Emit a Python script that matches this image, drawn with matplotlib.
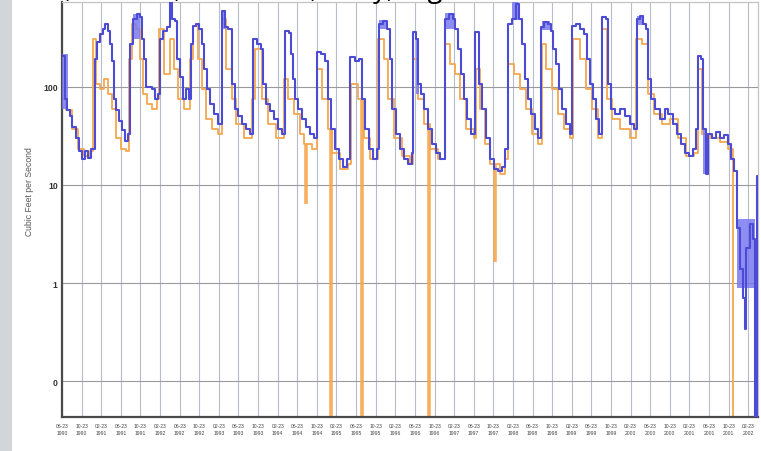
import numpy as np
import pandas as pd
import matplotlib
matplotlib.use("Agg")
import matplotlib.pyplot as plt
from matplotlib.patches import Rectangle

# ---- data (time in months from the first tick, flow in cubic feet per second) ----
observed_t = [0.0, 0.6, 1.0, 1.6, 2.0, 2.9, 3.5, 4.1, 4.7, 5.3, 5.9,
              6.7, 7.1, 7.8, 8.4, 8.8, 9.4, 9.8, 10.2, 10.6, 11.0, 11.6, 12.2, 12.9, 13.5,
              13.9, 14.5, 15.3, 15.9, 16.3, 16.7, 17.1, 18.4, 19.0, 19.6,
              20.0, 20.6, 21.4, 22.0, 22.4, 23.1, 23.5, 24.1, 24.7, 25.3, 25.9,
              26.3, 26.7, 27.3, 27.9, 28.6, 29.0, 29.6, 30.2, 31.0, 31.8,
              32.7, 33.3, 33.9, 34.7, 35.3, 35.9, 36.7, 37.6, 38.4,
              38.9, 39.8, 40.6, 41.0, 41.6, 42.4, 43.3, 44.1, 44.9,
              45.5, 46.3, 46.7, 47.1, 47.6, 48.2, 49.0, 49.8, 50.6, 51.4,
              52.0, 52.9, 53.7, 54.3, 54.9, 55.7, 56.5, 57.3, 58.2,
              58.8, 59.8, 60.6, 61.2, 61.8, 62.7, 63.5, 64.3,
              64.7, 65.5, 66.3, 66.9, 67.3, 68.2, 69.0, 69.8, 70.6, 71.4,
              71.6, 72.2, 72.7, 73.3, 73.9, 74.7, 75.5, 76.3, 77.1,
              78.2, 79.0, 79.8, 80.2, 80.8, 81.4, 82.0, 82.7, 83.5,
              84.3, 85.1, 85.7, 86.5, 87.3, 88.2, 89.0, 89.8, 90.4,
              91.0, 91.8, 92.7, 93.3, 93.9, 94.5, 95.1, 95.7, 96.5, 97.1,
              97.8, 98.4, 99.2, 99.8, 100.2, 100.8, 101.4, 102.0, 102.9, 103.7,
              104.1, 104.9, 105.7, 106.5, 107.1, 107.8, 108.4, 109.0, 109.6,
              110.2, 111.0, 111.4, 112.0, 112.9, 113.9, 114.9, 115.9, 116.7,
              117.3, 118.0, 118.6, 119.2, 119.6, 120.2, 121.0, 122.0, 123.1, 123.7,
              124.7, 125.5, 126.3, 127.1, 127.9, 128.8, 129.4,
              129.8, 130.4, 130.8, 131.4, 131.8, 132.7, 133.5, 134.3, 135.1, 135.9,
              136.5, 137.1, 137.8, 138.4, 139.0, 139.3, 139.6, 140.4, 141.0, 141.4, 141.8, 142.0]
observed_cfs = [207, 75, 58, 50, 39, 30, 22, 18.5, 22, 19, 23,
                193, 287, 346, 389, 438, 371, 274, 185, 75, 58, 45, 36, 28, 33,
                274, 492, 553, 515, 308, 193, 100, 95, 75, 85,
                308, 371, 408, 733, 492, 470, 193, 126, 75, 95, 75,
                274, 417, 438, 389, 274, 153, 95, 67, 53, 42,
                595, 408, 389, 107, 60, 50, 42, 37, 33,
                308, 274, 243, 107, 67, 57, 47, 37, 33,
                371, 354, 216, 121, 75, 60, 47, 39, 33, 30,
                227, 216, 184, 75, 37, 23, 18.5, 15.3, 18.5,
                202, 184, 193, 75, 37, 23, 18.5, 23,
                438, 470, 389, 193, 60, 33, 23, 18.5, 16.5, 21,
                363, 308, 107, 85, 60, 37, 26, 21, 18.5,
                492, 553, 492, 389, 243, 136, 75, 47, 33,
                363, 107, 60, 30, 18.5, 14.6, 14, 15.3, 23,
                438, 492, 700, 492, 274, 121, 75, 53, 37, 30,
                408, 460, 438, 371, 243, 171, 95, 60, 42, 33,
                417, 438, 389, 346, 193, 107, 75, 47, 33,
                515, 492, 107, 60, 53, 60, 50, 42, 37,
                492, 530, 438, 389, 121, 75, 60, 47, 60, 53,
                42, 33, 26, 21, 19.5, 23, 37,
                207, 193, 37, 13, 33, 30, 35, 30, 32, 26,
                18.5, 14, 3.6, 1.4, 0.7, 0.34, 2.3, 4.0, 2.8, 0.01, 12.4, 12.4]

simulated_t = [0.0, 0.8, 2.0, 3.3, 4.5, 5.7, 6.3, 6.9, 7.8, 8.6, 9.4, 10.2, 11.0, 12.0, 13.1,
               13.7, 14.3, 15.1, 15.9, 16.5, 17.3, 18.4, 19.4, 19.8, 20.8, 22.0, 22.9, 23.7, 24.9,
               26.1, 26.7, 27.8, 28.6, 29.4, 30.6, 31.8, 32.7, 33.5, 34.7, 35.5, 37.1,
               38.8, 39.4, 40.8, 42.0, 43.7, 45.3, 46.1, 47.3, 48.6, 49.4, 51.0,
               52.0, 53.1, 54.3, 55.1, 56.7, 58.4, 59.0, 60.4, 61.6, 62.9,
               64.5, 65.7, 66.5, 67.8, 69.4, 71.0, 71.6, 72.7, 73.9, 75.1, 76.7,
               78.2, 79.2, 80.2, 81.2, 82.4, 84.1, 84.5, 85.3, 86.3, 87.3, 89.4, 90.4,
               91.0, 92.2, 93.5, 94.7, 95.9, 97.1, 98.0, 98.8, 100.0, 101.2, 102.4, 103.7,
               104.3, 105.7, 106.9, 108.2, 109.4, 110.2, 111.2, 112.2, 113.9, 115.9,
               117.1, 118.4, 119.6, 120.8, 122.4, 124.1, 125.7, 127.3, 129.0,
               129.8, 130.6, 132.2, 134.3, 135.9, 136.9, 137.3]
simulated_cfs = [75, 58, 37, 23, 19.5, 22, 308, 107, 95, 121, 85, 60, 30, 23, 22,
                 193, 438, 389, 193, 85, 67, 60, 75, 389, 136, 308, 153, 75, 60,
                 193, 417, 193, 95, 47, 37, 33, 492, 153, 75, 42, 30,
                 75, 243, 75, 42, 30, 121, 75, 53, 33, 26, 23,
                 153, 75, 37, 21, 14.6, 16.5, 107, 75, 30, 18.5,
                 308, 193, 75, 30, 19.5, 16.5, 193, 75, 42, 23, 18.5,
                 274, 171, 136, 75, 37, 30, 153, 60, 26, 16.5, 13, 18.5,
                 171, 136, 95, 60, 33, 26, 274, 153, 95, 53, 37, 30,
                 308, 193, 95, 60, 30, 389, 75, 47, 37, 30,
                 308, 274, 85, 53, 42, 47, 30, 19.5, 21,
                 153, 33, 30, 27.5, 23, 0.01, 0.01]

# short dropouts in the simulated record: (month, lowest value)
dropout_t = [49.8, 54.9, 61.2, 74.9, 88.4]
dropout_low = [6.4, 0.01, 0.01, 0.01, 1.65]

# spread of observed daily values inside a step: (start, end, low, high)
spread_start = [0.0, 14.5, 32.7, 64.7, 72.2, 78.2, 91.8, 98.0, 117.3, 130.8, 137.8]
spread_end = [1.2, 15.9, 33.4, 66.3, 72.8, 80.2, 93.0, 99.5, 118.6, 131.5, 141.3]
spread_low = [60, 308, 390, 390, 85, 390, 480, 380, 430, 13, 0.9]
spread_high = [215, 553, 600, 480, 300, 560, 733, 470, 530, 37, 4.5]

tick_dates = pd.date_range("1990-06-23", periods=36, freq=pd.DateOffset(months=4))
tick_months = np.arange(0, 4 * len(tick_dates), 4)
tick_labels = [d.strftime("%m-%d") + "\n" + d.strftime("%Y") for d in tick_dates]

ytick_values = [0.1, 1, 10, 100]
ytick_labels = ["0", "1", "10", "100"]

BLUE = "#4b4bd6"
BLUE_LIGHT = "#7a7af0"
ORANGE = "#f5a84e"

W, H = 761, 452
fig = plt.figure(figsize=(W / 100, H / 100), dpi=100, facecolor="white")
plt.rcParams["font.family"] = ["Liberation Sans", "DejaVu Sans"]

# grey strip on the left edge of the page
fig.patches.append(Rectangle((0, 0), 12 / W, 1, transform=fig.transFigure,
                             facecolor="#d3d6d9", edgecolor="none", zorder=0))

ax = fig.add_axes([62 / W, 1 - 418 / H, (758 - 62) / W, (418 - 3) / H])
ax.set_yscale("log")
ax.set_ylim(0.0431, 732)
ax.set_xlim(0, 142)

ax.set_yticks(ytick_values)
ax.set_yticklabels(ytick_labels, fontsize=6.2, fontweight="bold", color="#333333")
ax.yaxis.set_minor_locator(matplotlib.ticker.NullLocator())
ax.set_xticks(tick_months)
ax.set_xticklabels(tick_labels, fontsize=3.6, color="#444444", linespacing=1.6)
ax.tick_params(axis="both", length=0, pad=3)
ax.tick_params(axis="x", pad=4)

ax.grid(axis="y", color="#9a9a9a", lw=0.8)
ax.grid(axis="x", color="#b7bbce", lw=0.8)
ax.set_axisbelow(True)

for side in ("left", "bottom"):
    ax.spines[side].set_color("#4a4a4a")
    ax.spines[side].set_linewidth(1.6)
for side in ("top", "right"):
    ax.spines[side].set_color("#c4c4c4")
    ax.spines[side].set_linewidth(0.9)

# simulated series and its dropouts
ax.step(simulated_t, simulated_cfs, where="post", color=ORANGE, lw=1.3, zorder=2)
sim_t = np.asarray(simulated_t)
sim_v = np.asarray(simulated_cfs)
for t, low in zip(dropout_t, dropout_low):
    top = sim_v[np.searchsorted(sim_t, t, side="right") - 1]
    ax.vlines(t, low, top, color=ORANGE, lw=2.6, alpha=0.9, zorder=2)

# observed series with its daily spread
for s, e, lo, hi in zip(spread_start, spread_end, spread_low, spread_high):
    ax.fill_between([s, e], lo, hi, color=BLUE_LIGHT, alpha=0.85, lw=0, zorder=3)
ax.step(observed_t, observed_cfs, where="post", color=BLUE, lw=1.5, zorder=4)

fig.text(29 / W, 1 - 192 / H, "Cubic Feet per Second", rotation=90,
         ha="center", va="center", fontsize=6.2, color="#555555")

# page heading above the chart; only its lowest strokes fall inside the page
fig.text(-6 / W, 1 + 3 / H, "Mean, Median, Minimum, Daily, High",
         fontsize=19.5, family="Open Sans", color="black", ha="left", va="baseline")

fig.savefig("out.png", dpi=100, facecolor="white")
